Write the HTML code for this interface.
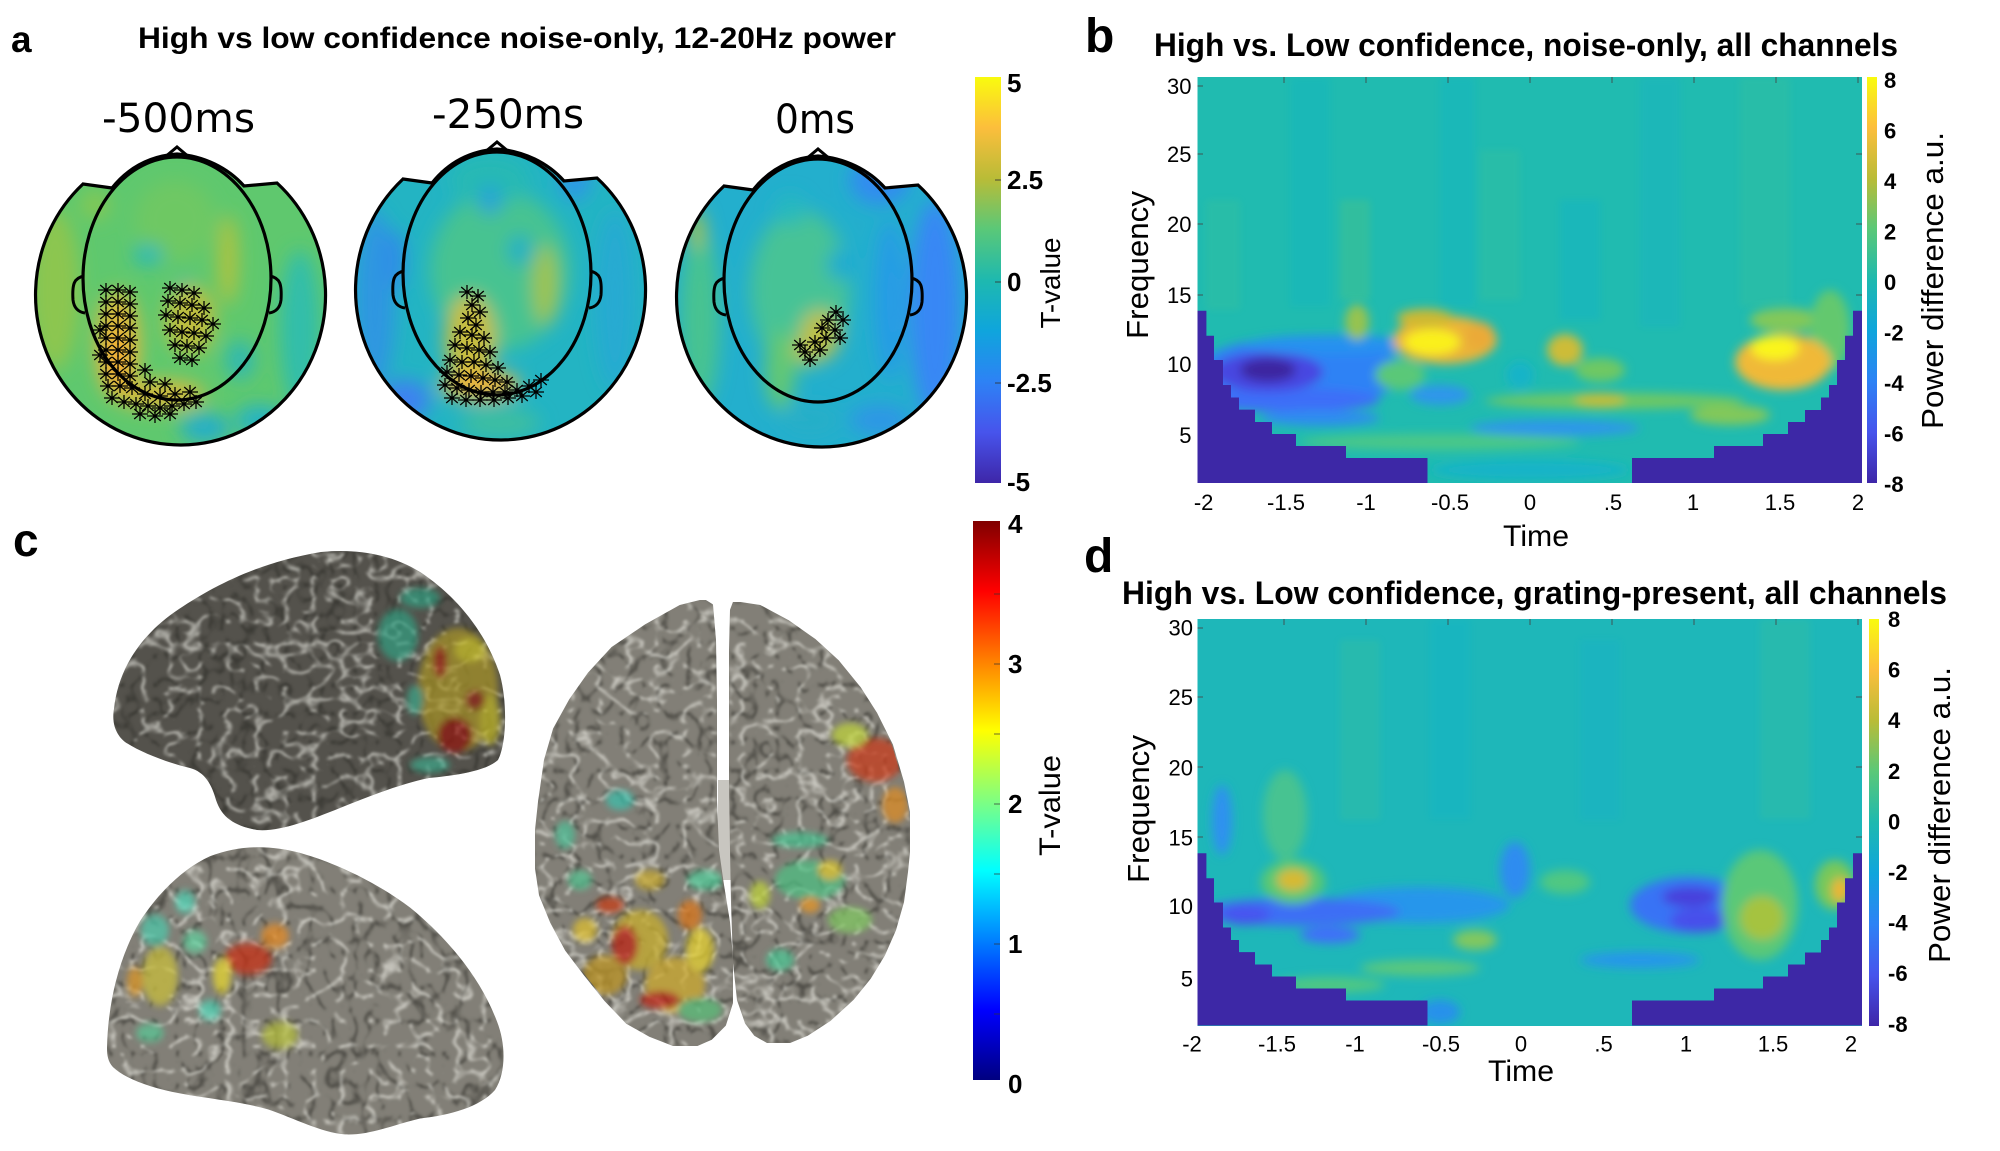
<!DOCTYPE html>
<html><head><meta charset="utf-8"><style>
html,body{margin:0;padding:0;background:#fff;width:2000px;height:1151px;overflow:hidden}
svg{display:block}
text{font-family:"Liberation Sans",Arial,sans-serif}
</style></head><body>
<svg width="2000" height="1151" viewBox="0 0 2000 1151" xmlns="http://www.w3.org/2000/svg">
<defs>
<linearGradient id="parula" x1="0" y1="0" x2="0" y2="1">
<stop offset="0" stop-color="rgb(249,251,14)"/>
<stop offset="0.125" stop-color="rgb(252,190,60)"/>
<stop offset="0.25" stop-color="rgb(185,188,55)"/>
<stop offset="0.375" stop-color="rgb(90,200,120)"/>
<stop offset="0.5" stop-color="rgb(30,185,175)"/>
<stop offset="0.625" stop-color="rgb(15,165,220)"/>
<stop offset="0.75" stop-color="rgb(45,130,245)"/>
<stop offset="0.875" stop-color="rgb(71,84,236)"/>
<stop offset="1" stop-color="rgb(62,38,168)"/>
</linearGradient>
<linearGradient id="jet" x1="0" y1="0" x2="0" y2="1">
<stop offset="0" stop-color="rgb(128,0,0)"/>
<stop offset="0.125" stop-color="rgb(255,0,0)"/>
<stop offset="0.25" stop-color="rgb(255,128,0)"/>
<stop offset="0.375" stop-color="rgb(255,255,0)"/>
<stop offset="0.5" stop-color="rgb(128,255,128)"/>
<stop offset="0.625" stop-color="rgb(0,255,255)"/>
<stop offset="0.75" stop-color="rgb(0,128,255)"/>
<stop offset="0.875" stop-color="rgb(0,0,255)"/>
<stop offset="1" stop-color="rgb(0,0,128)"/>
</linearGradient>
<filter id="b10" x="-30%" y="-30%" width="160%" height="160%"><feGaussianBlur stdDeviation="9"/></filter>
<filter id="b6" x="-30%" y="-30%" width="160%" height="160%"><feGaussianBlur stdDeviation="5"/></filter>
<filter id="b4" x="-30%" y="-30%" width="160%" height="160%"><feGaussianBlur stdDeviation="3.5"/></filter>
<filter id="tex" x="0" y="0" width="100%" height="100%" color-interpolation-filters="sRGB">
<feTurbulence type="turbulence" baseFrequency="0.035 0.045" numOctaves="2" seed="3" result="t1"/>
<feColorMatrix in="t1" type="matrix" values="0 0 0 0 1  0 0 0 0 1  0 0 0 0 0.97  -3.5 0 0 0 0.6" result="w"/>
<feGaussianBlur in="w" stdDeviation="1.2" result="wb"/>
<feComposite in="wb" in2="SourceAlpha" operator="in" result="w2"/>
<feTurbulence type="turbulence" baseFrequency="0.045 0.035" numOctaves="2" seed="11" result="t2"/>
<feColorMatrix in="t2" type="matrix" values="0 0 0 0 0.15  0 0 0 0 0.15  0 0 0 0 0.13  -3.5 0 0 0 0.6" result="k"/>
<feGaussianBlur in="k" stdDeviation="1.2" result="kb"/>
<feComposite in="kb" in2="SourceAlpha" operator="in" result="k2"/>
<feMerge><feMergeNode in="SourceGraphic"/><feMergeNode in="k2"/><feMergeNode in="w2"/></feMerge>
</filter>
<path id="head" d="M83,184 L112,188 C128,168 150,156 177,154 C204,156 228,168 244,186 L277,183 A145 150 0 1 1 83,184 Z"/>
<clipPath id="hc"><path d="M83,184 L112,188 C128,168 150,156 177,154 C204,156 228,168 244,186 L277,183 A145 150 0 1 1 83,184 Z"/></clipPath>
<clipPath id="cb"><rect x="1197.5" y="77" width="664.5" height="406"/></clipPath>
<clipPath id="cd"><rect x="1197.5" y="619" width="664.5" height="407"/></clipPath>
<path id="ast" d="M-8,0H8M0,-7V7M-5.8,-5L5.8,5M-5.8,5L5.8,-5" stroke="#000" stroke-width="1.3" fill="none"/>
<path id="upB" d="M114,709 C118,670 140,635 179,609 C215,585 260,562 321,552 C360,548 395,556 420,572 C455,595 485,630 500,675 C508,705 506,745 498,760 C485,772 450,776 429,778 C400,784 370,796 340,808 C310,820 280,832 257,830 C235,826 222,818 216,800 C212,785 205,772 190,768 C165,762 140,752 125,742 C114,733 112,720 114,709 Z"/>
<path id="loB" d="M107,1023 C108,985 118,945 140,912 C160,885 185,865 210,855 C240,845 270,845 300,852 C340,862 380,880 410,900 C445,925 480,960 497,1000 C506,1020 506,1045 495,1060 C480,1075 450,1082 420,1085 C395,1090 370,1100 345,1099 C320,1097 295,1085 268,1077 C240,1070 210,1068 180,1063 C150,1058 125,1050 113,1040 C108,1035 107,1030 107,1023 Z"/>
<path id="tlB" d="M704,600 L680,606 L646,625 L612,648 L589,673 L570,700 L554,729 L545,760 L539,802 L536,830 L535,862 L540,895 L551,922 L566,950 L585,975 L605,1000 L627,1023 L650,1036 L673,1045 L695,1046 L711,1039 L725,1025 L732,1003 L733,970 L729,922 L723,885 L718,850 L716,800 L716,700 L715,640 L712,605 Z"/>
<path id="trB" d="M734,602 L760,606 L788,621 L815,640 L838,661 L860,688 L876,713 L892,745 L903,782 L909,812 L910,842 L907,872 L903,902 L895,930 L884,955 L870,978 L853,999 L830,1020 L807,1035 L790,1042 L769,1043 L755,1035 L746,1023 L738,1000 L734,963 L732,902 L731,850 L729,721 L730,650 L731,610 Z"/>
<clipPath id="cup"><use href="#upB"/></clipPath>
<clipPath id="clo"><use href="#loB"/></clipPath>
<clipPath id="ctop"><use href="#tlB"/><use href="#trB"/></clipPath>
</defs>

<!-- ============ PANEL A ============ -->
<text x="11" y="52" font-size="37" font-weight="bold">a</text>
<text x="138" y="48" font-size="30" font-weight="bold" textLength="758" lengthAdjust="spacingAndGlyphs">High vs low confidence noise-only, 12-20Hz power</text>
<text x="178.5" y="132" font-size="40" text-anchor="middle" style="font-family:'DejaVu Sans',sans-serif" textLength="153" lengthAdjust="spacingAndGlyphs">-500ms</text>
<text x="508" y="128" font-size="40" text-anchor="middle" style="font-family:'DejaVu Sans',sans-serif" textLength="152" lengthAdjust="spacingAndGlyphs">-250ms</text>
<text x="815" y="133" font-size="40" text-anchor="middle" style="font-family:'DejaVu Sans',sans-serif" textLength="80" lengthAdjust="spacingAndGlyphs">0ms</text>

<!-- head 1 -->
<g>
<g clip-path="url(#hc)">
<use href="#head" fill="rgb(95,200,110)"/>
<g filter="url(#b10)">
<ellipse cx="55" cy="290" rx="25" ry="80" fill="rgb(140,198,80)"/>
<ellipse cx="95" cy="205" rx="15" ry="15" fill="rgb(130,200,85)"/>
<ellipse cx="300" cy="330" rx="20" ry="80" fill="rgb(50,190,170)"/>
<ellipse cx="175" cy="220" rx="40" ry="40" fill="rgb(110,200,100)"/>
<ellipse cx="148" cy="255" rx="15" ry="10" fill="rgb(40,185,185)"/>
<ellipse cx="185" cy="290" rx="10" ry="15" fill="rgb(60,190,160)"/>
<ellipse cx="228" cy="260" rx="10" ry="45" fill="rgb(175,195,65)"/>
<ellipse cx="118" cy="345" rx="22" ry="55" fill="rgb(220,185,60)"/>
<ellipse cx="115" cy="360" rx="14" ry="30" fill="rgb(240,175,55)"/>
<ellipse cx="190" cy="320" rx="25" ry="35" fill="rgb(190,190,65)"/>
<ellipse cx="160" cy="395" rx="45" ry="15" fill="rgb(210,185,60)"/>
<ellipse cx="205" cy="428" rx="25" ry="15" fill="rgb(40,175,200)"/>
<ellipse cx="260" cy="420" rx="25" ry="15" fill="rgb(40,180,195)"/>
<ellipse cx="240" cy="360" rx="15" ry="20" fill="rgb(50,185,175)"/>
</g>
</g>
<use href="#head" fill="none" stroke="#000" stroke-width="3.2"/>
<ellipse cx="177" cy="278.5" rx="94" ry="121.5" fill="none" stroke="#000" stroke-width="3.2"/>
<path d="M165,157 L177,147 L189,157" fill="none" stroke="#000" stroke-width="3"/>
<path d="M84,276 C74,278 72,284 73,300 C74,308 78,312 85,313" fill="none" stroke="#000" stroke-width="3"/>
<path d="M270,276 C280,278 282,284 281,300 C280,308 276,312 269,313" fill="none" stroke="#000" stroke-width="3"/>
</g>

<!-- head 2 -->
<g transform="translate(320,-5)">
<g clip-path="url(#hc)">
<use href="#head" fill="rgb(35,180,195)"/>
<g filter="url(#b10)">
<ellipse cx="55" cy="305" rx="20" ry="90" fill="rgb(45,150,225)"/>
<ellipse cx="85" cy="405" rx="25" ry="20" fill="rgb(60,130,240)"/>
<ellipse cx="180" cy="275" rx="70" ry="80" fill="rgb(70,195,145)"/>
<ellipse cx="170" cy="185" rx="40" ry="25" fill="rgb(40,185,180)"/>
<ellipse cx="170" cy="205" rx="10" ry="15" fill="rgb(40,160,220)"/>
<ellipse cx="225" cy="290" rx="12" ry="40" fill="rgb(160,195,75)"/>
<ellipse cx="150" cy="345" rx="25" ry="45" fill="rgb(200,190,65)"/>
<ellipse cx="160" cy="390" rx="40" ry="15" fill="rgb(235,180,60)"/>
<ellipse cx="200" cy="255" rx="12" ry="15" fill="rgb(30,175,200)"/>
<ellipse cx="295" cy="305" rx="20" ry="90" fill="rgb(40,170,210)"/>
<ellipse cx="255" cy="185" rx="15" ry="20" fill="rgb(45,150,230)"/>
<ellipse cx="75" cy="265" rx="10" ry="30" fill="rgb(45,140,232)"/>
<ellipse cx="180" cy="428" rx="40" ry="15" fill="rgb(60,190,160)"/>
</g>
</g>
<use href="#head" fill="none" stroke="#000" stroke-width="3.2"/>
<ellipse cx="177" cy="278.5" rx="94" ry="121.5" fill="none" stroke="#000" stroke-width="3.2"/>
<path d="M165,157 L177,147 L189,157" fill="none" stroke="#000" stroke-width="3"/>
<path d="M84,276 C74,278 72,284 73,300 C74,308 78,312 85,313" fill="none" stroke="#000" stroke-width="3"/>
<path d="M270,276 C280,278 282,284 281,300 C280,308 276,312 269,313" fill="none" stroke="#000" stroke-width="3"/>
</g>

<!-- head 3 -->
<g transform="translate(641,2)">
<g clip-path="url(#hc)">
<use href="#head" fill="rgb(35,175,205)"/>
<g filter="url(#b10)">
<ellipse cx="294" cy="308" rx="25" ry="110" fill="rgb(55,135,245)"/>
<ellipse cx="249" cy="298" rx="15" ry="80" fill="rgb(40,155,230)"/>
<ellipse cx="239" cy="178" rx="30" ry="25" fill="rgb(50,140,240)"/>
<ellipse cx="59" cy="318" rx="20" ry="90" fill="rgb(70,195,145)"/>
<ellipse cx="56" cy="228" rx="8" ry="20" fill="rgb(170,195,70)"/>
<ellipse cx="159" cy="288" rx="50" ry="80" fill="rgb(70,195,150)"/>
<ellipse cx="179" cy="333" rx="20" ry="25" fill="rgb(190,192,70)"/>
<ellipse cx="164" cy="348" rx="12" ry="12" fill="rgb(190,190,70)"/>
<ellipse cx="139" cy="368" rx="15" ry="40" fill="rgb(100,200,115)"/>
<ellipse cx="149" cy="208" rx="15" ry="15" fill="rgb(40,185,190)"/>
<ellipse cx="199" cy="263" rx="12" ry="15" fill="rgb(30,170,210)"/>
<ellipse cx="169" cy="418" rx="30" ry="15" fill="rgb(40,175,200)"/>
<ellipse cx="239" cy="418" rx="30" ry="15" fill="rgb(45,150,230)"/>
</g>
</g>
<use href="#head" fill="none" stroke="#000" stroke-width="3.2"/>
<ellipse cx="177" cy="278.5" rx="94" ry="121.5" fill="none" stroke="#000" stroke-width="3.2"/>
<path d="M165,157 L177,147 L189,157" fill="none" stroke="#000" stroke-width="3"/>
<path d="M84,276 C74,278 72,284 73,300 C74,308 78,312 85,313" fill="none" stroke="#000" stroke-width="3"/>
<path d="M270,276 C280,278 282,284 281,300 C280,308 276,312 269,313" fill="none" stroke="#000" stroke-width="3"/>
</g>

<!-- asterisks head 1 -->
<g>
<use href="#ast" x="106" y="290"/><use href="#ast" x="118" y="290"/><use href="#ast" x="130" y="292"/>
<use href="#ast" x="106" y="302"/><use href="#ast" x="118" y="302"/><use href="#ast" x="130" y="304"/>
<use href="#ast" x="106" y="314"/><use href="#ast" x="118" y="314"/><use href="#ast" x="130" y="316"/>
<use href="#ast" x="106" y="326"/><use href="#ast" x="118" y="326"/><use href="#ast" x="130" y="328"/>
<use href="#ast" x="106" y="338"/><use href="#ast" x="118" y="338"/><use href="#ast" x="130" y="340"/>
<use href="#ast" x="106" y="350"/><use href="#ast" x="118" y="350"/><use href="#ast" x="130" y="352"/>
<use href="#ast" x="106" y="362"/><use href="#ast" x="118" y="362"/><use href="#ast" x="130" y="364"/>
<use href="#ast" x="106" y="374"/><use href="#ast" x="118" y="374"/><use href="#ast" x="130" y="376"/>
<use href="#ast" x="108" y="386"/><use href="#ast" x="120" y="386"/><use href="#ast" x="132" y="388"/>
<use href="#ast" x="100" y="330"/><use href="#ast" x="100" y="355"/>
<use href="#ast" x="112" y="398"/><use href="#ast" x="124" y="402"/><use href="#ast" x="136" y="404"/>
<use href="#ast" x="148" y="406"/><use href="#ast" x="160" y="408"/><use href="#ast" x="172" y="406"/>
<use href="#ast" x="184" y="404"/><use href="#ast" x="196" y="402"/>
<use href="#ast" x="145" y="394"/><use href="#ast" x="160" y="396"/><use href="#ast" x="175" y="394"/><use href="#ast" x="190" y="392"/>
<use href="#ast" x="140" y="414"/><use href="#ast" x="155" y="416"/><use href="#ast" x="170" y="414"/>
<use href="#ast" x="150" y="382"/><use href="#ast" x="165" y="384"/><use href="#ast" x="145" y="370"/>
<use href="#ast" x="170" y="288"/><use href="#ast" x="182" y="290"/><use href="#ast" x="194" y="293"/>
<use href="#ast" x="168" y="301"/><use href="#ast" x="180" y="303"/><use href="#ast" x="192" y="305"/><use href="#ast" x="204" y="308"/>
<use href="#ast" x="166" y="315"/><use href="#ast" x="178" y="317"/><use href="#ast" x="190" y="318"/><use href="#ast" x="202" y="320"/><use href="#ast" x="213" y="324"/>
<use href="#ast" x="170" y="330"/><use href="#ast" x="182" y="332"/><use href="#ast" x="194" y="333"/><use href="#ast" x="206" y="336"/>
<use href="#ast" x="175" y="345"/><use href="#ast" x="187" y="346"/><use href="#ast" x="199" y="348"/>
<use href="#ast" x="180" y="358"/><use href="#ast" x="192" y="360"/>
</g>
<!-- asterisks head 2 -->
<g>
<use href="#ast" x="467" y="292"/><use href="#ast" x="478" y="296"/><use href="#ast" x="472" y="305"/>
<use href="#ast" x="480" y="312"/><use href="#ast" x="468" y="318"/><use href="#ast" x="476" y="325"/>
<use href="#ast" x="460" y="332"/><use href="#ast" x="472" y="335"/><use href="#ast" x="484" y="338"/>
<use href="#ast" x="455" y="345"/><use href="#ast" x="467" y="348"/><use href="#ast" x="479" y="350"/><use href="#ast" x="490" y="352"/>
<use href="#ast" x="450" y="360"/><use href="#ast" x="462" y="362"/><use href="#ast" x="474" y="362"/><use href="#ast" x="486" y="365"/><use href="#ast" x="498" y="368"/>
<use href="#ast" x="447" y="372"/><use href="#ast" x="459" y="375"/><use href="#ast" x="471" y="376"/><use href="#ast" x="483" y="378"/><use href="#ast" x="495" y="380"/><use href="#ast" x="507" y="382"/>
<use href="#ast" x="445" y="385"/><use href="#ast" x="457" y="388"/><use href="#ast" x="469" y="390"/><use href="#ast" x="481" y="392"/><use href="#ast" x="493" y="392"/><use href="#ast" x="505" y="392"/><use href="#ast" x="517" y="390"/><use href="#ast" x="529" y="386"/><use href="#ast" x="541" y="380"/>
<use href="#ast" x="452" y="398"/><use href="#ast" x="466" y="400"/><use href="#ast" x="480" y="400"/><use href="#ast" x="494" y="400"/><use href="#ast" x="508" y="398"/><use href="#ast" x="522" y="396"/><use href="#ast" x="536" y="392"/>
</g>
<!-- asterisks head 3 -->
<g>
<use href="#ast" x="836" y="312"/><use href="#ast" x="843" y="320"/><use href="#ast" x="828" y="320"/>
<use href="#ast" x="835" y="330"/><use href="#ast" x="822" y="328"/><use href="#ast" x="840" y="338"/>
<use href="#ast" x="826" y="338"/><use href="#ast" x="815" y="342"/><use href="#ast" x="820" y="350"/>
<use href="#ast" x="805" y="352"/><use href="#ast" x="810" y="360"/><use href="#ast" x="800" y="345"/>
</g>

<!-- colorbar a -->
<rect x="975" y="77" width="26" height="406" fill="url(#parula)"/>
<g stroke="#333" stroke-width="1.2" opacity="0.7">
<line x1="995" y1="180" x2="1001" y2="180"/><line x1="995" y1="282" x2="1001" y2="282"/><line x1="995" y1="383" x2="1001" y2="383"/>
</g>
<g font-size="26" font-weight="bold">
<text x="1007" y="92">5</text>
<text x="1007" y="189">2.5</text>
<text x="1007" y="291">0</text>
<text x="1007" y="392">-2.5</text>
<text x="1007" y="491">-5</text>
</g>
<text transform="translate(1060,283) rotate(-90)" font-size="28" text-anchor="middle" textLength="91" lengthAdjust="spacingAndGlyphs">T-value</text>

<!-- ============ PANEL B ============ -->
<text x="1085" y="52" font-size="48" font-weight="bold">b</text>
<text x="1154" y="56" font-size="32" font-weight="bold" textLength="744" lengthAdjust="spacingAndGlyphs">High vs. Low confidence, noise-only, all channels</text>
<g clip-path="url(#cb)">
<rect x="1197.5" y="77" width="664.5" height="406" fill="rgb(32,187,176)"/>
<g opacity="0.3" filter="url(#b4)">
<rect x="1206" y="200" width="34" height="110" fill="rgb(60,195,150)"/>
<rect x="1290" y="77" width="40" height="230" fill="rgb(15,180,200)"/>
<rect x="1340" y="200" width="30" height="100" fill="rgb(90,200,120)"/>
<rect x="1440" y="77" width="35" height="230" fill="rgb(15,178,205)"/>
<rect x="1480" y="150" width="40" height="150" fill="rgb(60,195,150)"/>
<rect x="1560" y="200" width="40" height="120" fill="rgb(15,175,210)"/>
<rect x="1640" y="77" width="40" height="250" fill="rgb(20,175,205)"/>
<rect x="1740" y="77" width="50" height="230" fill="rgb(60,195,150)"/>
</g>
<g filter="url(#b6)">
<ellipse cx="1300" cy="372" rx="105" ry="35" fill="rgb(45,130,245)"/>
<ellipse cx="1290" cy="400" rx="90" ry="12" fill="rgb(60,110,248)"/>
<ellipse cx="1268" cy="372" rx="55" ry="20" fill="rgb(70,70,225)"/>
<ellipse cx="1268" cy="370" rx="28" ry="12" fill="rgb(60,40,160)"/>
<ellipse cx="1330" cy="345" rx="85" ry="10" fill="rgb(40,145,240)"/>
<ellipse cx="1320" cy="418" rx="60" ry="8" fill="rgb(45,140,240)"/>
<ellipse cx="1400" cy="375" rx="25" ry="15" fill="rgb(90,200,120)"/>
<ellipse cx="1445" cy="340" rx="52" ry="24" fill="rgb(235,180,55)"/>
<ellipse cx="1432" cy="342" rx="28" ry="13" fill="rgb(250,240,30)"/>
<ellipse cx="1480" cy="336" rx="15" ry="14" fill="rgb(235,170,55)"/>
<ellipse cx="1425" cy="318" rx="28" ry="9" fill="rgb(205,185,50)"/>
<ellipse cx="1357" cy="322" rx="12" ry="18" fill="rgb(150,195,80)"/>
<ellipse cx="1440" cy="395" rx="30" ry="10" fill="rgb(45,150,235)"/>
<ellipse cx="1520" cy="375" rx="14" ry="14" fill="rgb(20,180,200)"/>
<ellipse cx="1600" cy="370" rx="25" ry="12" fill="rgb(110,200,100)"/>
<ellipse cx="1565" cy="350" rx="18" ry="16" fill="rgb(205,188,55)"/>
<ellipse cx="1615" cy="401" rx="130" ry="8" fill="rgb(110,200,100)"/>
<ellipse cx="1600" cy="400" rx="25" ry="7" fill="rgb(195,190,55)"/>
<ellipse cx="1555" cy="428" rx="85" ry="8" fill="rgb(45,150,235)"/>
<ellipse cx="1440" cy="442" rx="140" ry="8" fill="rgb(75,200,135)"/>
<ellipse cx="1730" cy="415" rx="40" ry="10" fill="rgb(130,200,90)"/>
<ellipse cx="1785" cy="320" rx="35" ry="12" fill="rgb(130,200,90)"/>
<ellipse cx="1830" cy="330" rx="20" ry="40" fill="rgb(100,200,110)"/>
<ellipse cx="1783" cy="362" rx="48" ry="28" fill="rgb(240,185,55)"/>
<ellipse cx="1775" cy="348" rx="24" ry="12" fill="rgb(250,245,30)"/>
<ellipse cx="1530" cy="470" rx="100" ry="10" fill="rgb(20,180,200)"/>
</g>
<g id="maskB" fill="rgb(61,40,166)">
<path d="M1197.5,310.7 H1206.4 V335.7 H1214 V360 H1223 V385 H1231 V397.5 H1239 V409.6 H1255 V422 H1272 V434 H1296 V446 H1346 V458 H1427.5 V483 H1197.5 Z"/>
<path d="M1632,483 V458 H1714 V446 H1763 V434 H1788 V422 H1805 V410 H1821 V397.5 H1829 V385 H1837 V360 H1845 V335.7 H1853 V310.7 H1862 V483 Z"/>
</g>
</g>
<g stroke="#444" stroke-width="1.4" opacity="0.6">
<line x1="1284" y1="77" x2="1284" y2="83"/><line x1="1366" y1="77" x2="1366" y2="83"/><line x1="1448" y1="77" x2="1448" y2="83"/><line x1="1530" y1="77" x2="1530" y2="83"/><line x1="1612" y1="77" x2="1612" y2="83"/><line x1="1694" y1="77" x2="1694" y2="83"/><line x1="1776" y1="77" x2="1776" y2="83"/><line x1="1858" y1="77" x2="1858" y2="83"/>
<line x1="1856" y1="154" x2="1862" y2="154"/><line x1="1856" y1="224" x2="1862" y2="224"/><line x1="1856" y1="295" x2="1862" y2="295"/>
<line x1="1197.5" y1="86" x2="1203" y2="86"/><line x1="1197.5" y1="154" x2="1203" y2="154"/><line x1="1197.5" y1="224" x2="1203" y2="224"/><line x1="1197.5" y1="295" x2="1203" y2="295"/>
</g>
<g font-size="22" text-anchor="end">
<text x="1191.5" y="94">30</text><text x="1191.5" y="162">25</text><text x="1191.5" y="232">20</text>
<text x="1191.5" y="303">15</text><text x="1191.5" y="372">10</text><text x="1191.5" y="443">5</text>
</g>
<g font-size="22" text-anchor="middle">
<text x="1203.6" y="510">-2</text><text x="1286" y="510">-1.5</text><text x="1366" y="510">-1</text>
<text x="1450" y="510">-0.5</text><text x="1530" y="510">0</text><text x="1613" y="510">.5</text>
<text x="1693" y="510">1</text><text x="1780" y="510">1.5</text><text x="1858" y="510">2</text>
</g>
<text x="1536" y="546" font-size="30" text-anchor="middle" textLength="66" lengthAdjust="spacingAndGlyphs">Time</text>
<text transform="translate(1148,265) rotate(-90)" font-size="31" text-anchor="middle" textLength="148" lengthAdjust="spacingAndGlyphs">Frequency</text>
<rect x="1867" y="77" width="10" height="406" fill="url(#parula)"/>
<g font-size="22" font-weight="bold">
<text x="1884" y="88">8</text><text x="1884" y="138.5">6</text><text x="1884" y="189">4</text>
<text x="1884" y="239.5">2</text><text x="1884" y="290">0</text><text x="1884" y="340.5">-2</text>
<text x="1884" y="391">-4</text><text x="1884" y="441.5">-6</text><text x="1884" y="492">-8</text>
</g>
<text transform="translate(1943,280.5) rotate(-90)" font-size="31" text-anchor="middle" textLength="297" lengthAdjust="spacingAndGlyphs">Power difference a.u.</text>

<!-- ============ PANEL D ============ -->
<text x="1084" y="572" font-size="48" font-weight="bold">d</text>
<text x="1122" y="604" font-size="32" font-weight="bold" textLength="825" lengthAdjust="spacingAndGlyphs">High vs. Low confidence, grating-present, all channels</text>
<g clip-path="url(#cd)">
<rect x="1197.5" y="619" width="664.5" height="407" fill="rgb(30,183,185)"/>
<g opacity="0.3" filter="url(#b4)">
<rect x="1340" y="640" width="40" height="180" fill="rgb(60,195,150)"/>
<rect x="1430" y="619" width="40" height="200" fill="rgb(15,178,205)"/>
<rect x="1580" y="640" width="40" height="180" fill="rgb(25,175,205)"/>
<rect x="1760" y="619" width="50" height="200" fill="rgb(60,195,150)"/>
</g>
<g filter="url(#b6)">
<ellipse cx="1222" cy="820" rx="10" ry="35" fill="rgb(45,145,240)"/>
<ellipse cx="1285" cy="815" rx="22" ry="45" fill="rgb(70,195,145)"/>
<ellipse cx="1420" cy="905" rx="90" ry="18" fill="rgb(40,150,235)"/>
<ellipse cx="1300" cy="912" rx="100" ry="14" fill="rgb(60,110,245)"/>
<ellipse cx="1245" cy="915" rx="25" ry="10" fill="rgb(70,85,240)"/>
<ellipse cx="1330" cy="935" rx="30" ry="8" fill="rgb(65,110,250)"/>
<ellipse cx="1293" cy="882" rx="32" ry="22" fill="rgb(90,200,115)"/>
<ellipse cx="1293" cy="880" rx="16" ry="11" fill="rgb(215,185,50)"/>
<ellipse cx="1515" cy="870" rx="15" ry="28" fill="rgb(45,140,240)"/>
<ellipse cx="1475" cy="940" rx="22" ry="10" fill="rgb(130,200,95)"/>
<ellipse cx="1420" cy="968" rx="60" ry="8" fill="rgb(90,200,125)"/>
<ellipse cx="1330" cy="985" rx="55" ry="8" fill="rgb(80,200,130)"/>
<ellipse cx="1565" cy="882" rx="25" ry="12" fill="rgb(80,200,130)"/>
<ellipse cx="1690" cy="905" rx="60" ry="28" fill="rgb(55,115,245)"/>
<ellipse cx="1700" cy="920" rx="30" ry="12" fill="rgb(70,80,235)"/>
<ellipse cx="1690" cy="897" rx="28" ry="10" fill="rgb(70,65,220)"/>
<ellipse cx="1760" cy="905" rx="38" ry="55" fill="rgb(90,200,120)"/>
<ellipse cx="1762" cy="918" rx="22" ry="22" fill="rgb(165,195,65)"/>
<ellipse cx="1835" cy="885" rx="20" ry="25" fill="rgb(120,200,90)"/>
<ellipse cx="1840" cy="890" rx="8" ry="12" fill="rgb(240,180,50)"/>
<ellipse cx="1640" cy="960" rx="60" ry="8" fill="rgb(40,150,235)"/>
<ellipse cx="1440" cy="1012" rx="20" ry="12" fill="rgb(40,145,235)"/>
</g>
<use href="#maskB" transform="translate(0,542.5)"/>
</g>
<g stroke="#444" stroke-width="1.4" opacity="0.6">
<line x1="1284" y1="619" x2="1284" y2="625"/><line x1="1366" y1="619" x2="1366" y2="625"/><line x1="1448" y1="619" x2="1448" y2="625"/><line x1="1530" y1="619" x2="1530" y2="625"/><line x1="1612" y1="619" x2="1612" y2="625"/><line x1="1694" y1="619" x2="1694" y2="625"/><line x1="1776" y1="619" x2="1776" y2="625"/><line x1="1858" y1="619" x2="1858" y2="625"/>
<line x1="1856" y1="697" x2="1862" y2="697"/><line x1="1856" y1="767" x2="1862" y2="767"/><line x1="1856" y1="837" x2="1862" y2="837"/>
<line x1="1197.5" y1="628" x2="1203" y2="628"/><line x1="1197.5" y1="697" x2="1203" y2="697"/><line x1="1197.5" y1="767" x2="1203" y2="767"/><line x1="1197.5" y1="837" x2="1203" y2="837"/>
</g>
<g font-size="22" text-anchor="end">
<text x="1193" y="635.5">30</text><text x="1193" y="705">25</text><text x="1193" y="775.5">20</text>
<text x="1193" y="845.5">15</text><text x="1193" y="914">10</text><text x="1193" y="986.6">5</text>
</g>
<g font-size="22" text-anchor="middle">
<text x="1192" y="1051.6">-2</text><text x="1277" y="1051.6">-1.5</text><text x="1355" y="1051.6">-1</text>
<text x="1441" y="1051.6">-0.5</text><text x="1521" y="1051.6">0</text><text x="1603.6" y="1051.6">.5</text>
<text x="1686" y="1051.6">1</text><text x="1773" y="1051.6">1.5</text><text x="1851" y="1051.6">2</text>
</g>
<text x="1521" y="1081" font-size="30" text-anchor="middle" textLength="66" lengthAdjust="spacingAndGlyphs">Time</text>
<text transform="translate(1149,809) rotate(-90)" font-size="31" text-anchor="middle" textLength="148" lengthAdjust="spacingAndGlyphs">Frequency</text>
<rect x="1869" y="619" width="10" height="407" fill="url(#parula)"/>
<g font-size="22" font-weight="bold">
<text x="1888" y="627">8</text><text x="1888" y="677.6">6</text><text x="1888" y="728.2">4</text>
<text x="1888" y="778.8">2</text><text x="1888" y="829.5">0</text><text x="1888" y="880">-2</text>
<text x="1888" y="930.6">-4</text><text x="1888" y="981.2">-6</text><text x="1888" y="1032">-8</text>
</g>
<text transform="translate(1950,815) rotate(-90)" font-size="31" text-anchor="middle" textLength="296" lengthAdjust="spacingAndGlyphs">Power difference a.u.</text>

<!-- ============ PANEL C ============ -->
<text x="13" y="556" font-size="46" font-weight="bold">c</text>

<!-- upper brain (dark) -->
<use href="#upB" fill="rgb(84,82,76)" filter="url(#tex)"/>
<g clip-path="url(#cup)" opacity="0.7">
<g filter="url(#b4)">
<ellipse cx="458" cy="690" rx="40" ry="62" fill="rgb(170,150,40)"/>
<ellipse cx="470" cy="650" rx="15" ry="12" fill="rgb(210,200,40)"/>
<ellipse cx="490" cy="720" rx="10" ry="25" fill="rgb(200,190,40)"/>
<ellipse cx="455" cy="735" rx="18" ry="18" fill="rgb(150,25,15)"/>
<ellipse cx="440" cy="662" rx="7" ry="16" fill="rgb(170,40,20)"/>
<ellipse cx="475" cy="700" rx="10" ry="10" fill="rgb(150,40,20)"/>
<ellipse cx="398" cy="635" rx="20" ry="26" fill="rgb(50,160,130)"/>
<ellipse cx="420" cy="598" rx="20" ry="10" fill="rgb(50,160,130)"/>
<ellipse cx="430" cy="765" rx="20" ry="8" fill="rgb(60,170,140)"/>
<ellipse cx="415" cy="700" rx="8" ry="15" fill="rgb(60,170,140)"/>
</g>
</g>

<!-- lower brain (stretched down) -->
<g transform="translate(0,846) scale(1,1.14) translate(0,-846)">
<use href="#loB" fill="rgb(130,127,119)" filter="url(#tex)"/>
<g clip-path="url(#clo)" opacity="0.75">
<g filter="url(#b4)">
<ellipse cx="160" cy="960" rx="18" ry="26" fill="rgb(200,190,60)"/>
<ellipse cx="155" cy="920" rx="14" ry="14" fill="rgb(80,200,170)"/>
<ellipse cx="185" cy="895" rx="10" ry="10" fill="rgb(80,210,180)"/>
<ellipse cx="195" cy="930" rx="12" ry="10" fill="rgb(100,210,160)"/>
<ellipse cx="248" cy="945" rx="24" ry="14" fill="rgb(200,50,20)"/>
<ellipse cx="275" cy="925" rx="14" ry="11" fill="rgb(230,140,40)"/>
<ellipse cx="222" cy="960" rx="9" ry="16" fill="rgb(230,215,50)"/>
<ellipse cx="150" cy="1010" rx="14" ry="8" fill="rgb(90,200,150)"/>
<ellipse cx="280" cy="1012" rx="18" ry="12" fill="rgb(180,190,60)"/>
<ellipse cx="210" cy="990" rx="11" ry="9" fill="rgb(80,210,180)"/>
<ellipse cx="135" cy="965" rx="8" ry="13" fill="rgb(220,150,40)"/>
</g>
</g>
</g>

<!-- top-view brain -->
<rect x="718" y="780" width="14" height="100" fill="rgb(200,198,192)"/>
<use href="#tlB" fill="rgb(130,127,119)" filter="url(#tex)" stroke="rgb(130,127,119)" stroke-width="2" stroke-linejoin="round"/>
<use href="#trB" fill="rgb(130,127,119)" filter="url(#tex)" stroke="rgb(130,127,119)" stroke-width="2" stroke-linejoin="round"/>
<g clip-path="url(#ctop)" opacity="0.75">
<g filter="url(#b4)">
<ellipse cx="640" cy="940" rx="28" ry="30" fill="rgb(200,175,45)"/>
<ellipse cx="675" cy="985" rx="30" ry="28" fill="rgb(205,170,45)"/>
<ellipse cx="605" cy="975" rx="22" ry="20" fill="rgb(190,150,40)"/>
<ellipse cx="700" cy="950" rx="14" ry="22" fill="rgb(230,210,50)"/>
<ellipse cx="625" cy="945" rx="13" ry="20" fill="rgb(190,40,20)"/>
<ellipse cx="660" cy="1000" rx="20" ry="9" fill="rgb(190,40,20)"/>
<ellipse cx="610" cy="905" rx="14" ry="8" fill="rgb(200,60,20)"/>
<ellipse cx="690" cy="915" rx="12" ry="15" fill="rgb(220,120,30)"/>
<ellipse cx="585" cy="930" rx="12" ry="12" fill="rgb(220,190,50)"/>
<ellipse cx="650" cy="880" rx="15" ry="10" fill="rgb(200,170,50)"/>
<ellipse cx="700" cy="1010" rx="22" ry="12" fill="rgb(90,190,120)"/>
<ellipse cx="705" cy="880" rx="18" ry="10" fill="rgb(80,200,150)"/>
<ellipse cx="565" cy="835" rx="10" ry="14" fill="rgb(80,190,150)"/>
<ellipse cx="620" cy="800" rx="14" ry="10" fill="rgb(60,190,170)"/>
<ellipse cx="580" cy="880" rx="12" ry="10" fill="rgb(90,200,150)"/>
<ellipse cx="875" cy="760" rx="28" ry="22" fill="rgb(200,60,30)"/>
<ellipse cx="850" cy="735" rx="18" ry="12" fill="rgb(190,210,60)"/>
<ellipse cx="895" cy="805" rx="13" ry="18" fill="rgb(220,140,40)"/>
<ellipse cx="800" cy="840" rx="28" ry="8" fill="rgb(80,200,150)"/>
<ellipse cx="810" cy="880" rx="35" ry="20" fill="rgb(80,190,130)"/>
<ellipse cx="830" cy="870" rx="12" ry="10" fill="rgb(220,200,50)"/>
<ellipse cx="810" cy="905" rx="10" ry="8" fill="rgb(230,150,40)"/>
<ellipse cx="850" cy="920" rx="22" ry="13" fill="rgb(130,200,100)"/>
<ellipse cx="780" cy="960" rx="14" ry="11" fill="rgb(80,200,150)"/>
<ellipse cx="760" cy="895" rx="10" ry="14" fill="rgb(190,210,60)"/>
</g>
</g>

<!-- colorbar c -->
<rect x="973" y="521" width="27" height="559" fill="url(#jet)"/>
<g stroke="#333" stroke-width="1.2" opacity="0.6">
<line x1="994" y1="594" x2="1000" y2="594"/><line x1="994" y1="664" x2="1000" y2="664"/><line x1="994" y1="734" x2="1000" y2="734"/>
<line x1="994" y1="804" x2="1000" y2="804"/><line x1="994" y1="874" x2="1000" y2="874"/><line x1="994" y1="944" x2="1000" y2="944"/><line x1="994" y1="1014" x2="1000" y2="1014"/>
</g>
<g font-size="26" font-weight="bold">
<text x="1008" y="533">4</text><text x="1008" y="673">3</text><text x="1008" y="813">2</text>
<text x="1008" y="953">1</text><text x="1008" y="1093">0</text>
</g>
<text transform="translate(1060,805.5) rotate(-90)" font-size="30" text-anchor="middle" textLength="101" lengthAdjust="spacingAndGlyphs">T-value</text>
</svg>
</body></html>
